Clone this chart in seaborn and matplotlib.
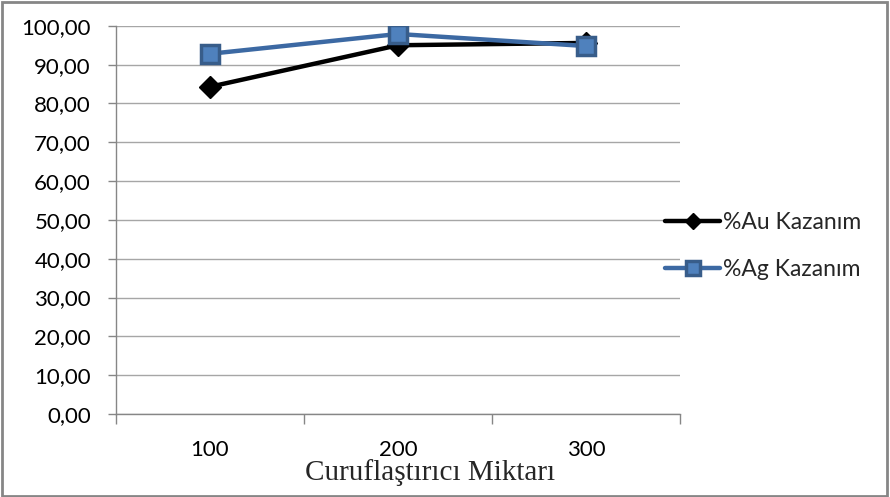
import matplotlib
matplotlib.use("Agg")
import matplotlib.pyplot as plt
from matplotlib.patches import Rectangle
from matplotlib.ticker import FixedLocator, NullFormatter, FixedFormatter
import seaborn as sns
import pandas as pd

categories = ["100", "200", "300"]
au_values = [84.3, 95.0, 95.6]
ag_values = [92.8, 97.9, 94.8]
series_names = ["%Au Kazanım", "%Ag Kazanım"]
y_ticks = [0, 10, 20, 30, 40, 50, 60, 70, 80, 90, 100]

sns.set_theme(style="white")
plt.rcParams["font.family"] = ["Lato", "DejaVu Sans"]

df = pd.DataFrame({
    "Miktar": categories * 2,
    "Değer": au_values + ag_values,
    "Seri": [series_names[0]] * 3 + [series_names[1]] * 3,
})

fig = plt.figure(figsize=(8.9, 4.97), dpi=100)
ax = fig.add_axes([0.1303, 0.167, 0.6337, 0.781])

palette = {series_names[0]: "#000000", series_names[1]: "#3C69A3"}
sns.lineplot(data=df, x="Miktar", y="Değer", hue="Seri", style="Seri",
             palette=palette, markers={series_names[0]: "D", series_names[1]: "s"},
             dashes=False, linewidth=3.2, markersize=12, ax=ax, sort=False)

# marker styling per series
for line in ax.lines:
    if line.get_marker() == "s":
        line.set_markerfacecolor("#4F81BD")
        line.set_markeredgecolor("#385D8A")
        line.set_markeredgewidth(2.5)
        line.set_markersize(13.5)
    elif line.get_marker() == "D":
        line.set_markerfacecolor("#000000")
        line.set_markeredgecolor("#000000")
        line.set_markeredgewidth(1)
        line.set_markersize(11.5)

ax.set_xlim(-0.5, 2.5)
ax.set_ylim(0, 100)
ax.set_yticks(y_ticks)
ax.set_yticklabels([f"{v:.2f}".replace(".", ",") for v in y_ticks])
ax.yaxis.grid(True, color="#A6A6A6", linewidth=1)
ax.xaxis.grid(False)

# category boundaries carry the tick marks, labels sit at the centres
ax.xaxis.set_major_locator(FixedLocator([-0.5, 0.5, 1.5, 2.5]))
ax.xaxis.set_major_formatter(NullFormatter())
ax.xaxis.set_minor_locator(FixedLocator([0, 1, 2]))
ax.xaxis.set_minor_formatter(FixedFormatter(categories))
ax.tick_params(axis="x", which="major", direction="out", length=7, width=1,
               color="#868686", bottom=True)
ax.tick_params(axis="x", which="minor", length=0, pad=19, labelsize=16,
               labelcolor="#000000")
ax.tick_params(axis="y", direction="out", length=6, width=1, color="#868686",
               left=True, labelsize=16, labelcolor="#000000", pad=12)

for side in ["top", "right"]:
    ax.spines[side].set_visible(False)
ax.spines["left"].set_color("#868686")
ax.spines["bottom"].set_color("#868686")
ax.spines["left"].set_linewidth(1)
ax.spines["bottom"].set_linewidth(1)

ax.set_ylabel("")
ax.set_xlabel("Curuflaştırıcı Miktarı", fontsize=21, family=["Liberation Serif"])
ax.xaxis.set_label_coords(0.557, -0.115)

handles, labels = ax.get_legend_handles_labels()
ax.legend(handles, labels, loc="center left",
          bbox_to_anchor=(665 / 890, 1 - 246 / 497), bbox_transform=fig.transFigure,
          frameon=False, fontsize=16.5, handlelength=2.4, handletextpad=0.15,
          labelspacing=1.1, borderaxespad=0, borderpad=0, markerscale=0.7)

fig.patches.append(Rectangle((0.002, 0.003), 0.995, 0.993, transform=fig.transFigure,
                             fill=False, edgecolor="#868686", linewidth=2))

fig.savefig("out.png", dpi=100)
